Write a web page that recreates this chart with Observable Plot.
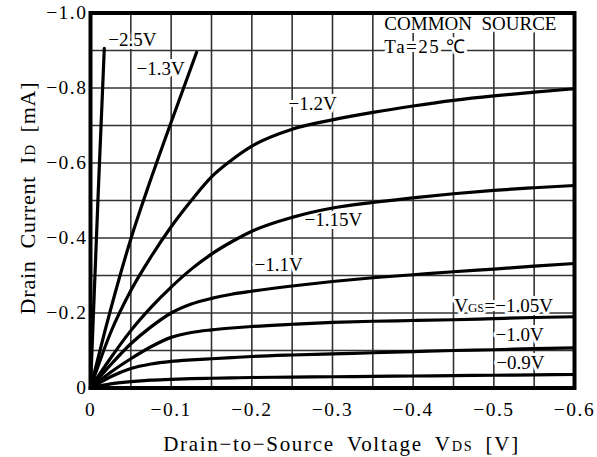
<!DOCTYPE html>
<html><head><meta charset="utf-8">
<script src="https://cdn.jsdelivr.net/npm/d3@7"></script>
<script src="https://cdn.jsdelivr.net/npm/@observablehq/plot@0.6"></script>
<style>body{margin:0;background:#fff}</style>
</head><body><div id="chart"></div>
<script>
// ---- data ----
const xDomain = [0, -0.6];
const yDomain = [0, -1.0];
const xTicks = [0, -0.1, -0.2, -0.3, -0.4, -0.5, -0.6];
const yTicks = [0, -0.2, -0.4, -0.6, -0.8, -1.0];
const xGrid = [-0.05, -0.1, -0.15, -0.2, -0.25, -0.3, -0.35, -0.4, -0.45, -0.5, -0.55];
const yGrid = [-0.1, -0.2, -0.3, -0.4, -0.5, -0.6, -0.7, -0.8, -0.9];

const vgsList = ["-2.5", "-1.3", "-1.2", "-1.15", "-1.1", "-1.05", "-1.0", "-0.9"];

const vdsA = [0, -0.0097, -0.0171];
const idA  = [0, -0.527, -0.906];            // VGS = -2.5 V
const vdsB = [0, -0.018, -0.0498, -0.07, -0.0985, -0.1315];
const idB  = [0, -0.153, -0.396, -0.527, -0.70, -0.895];   // VGS = -1.3 V

const vdsC = [0, -0.025, -0.05, -0.075, -0.1, -0.125, -0.15, -0.175, -0.2, -0.25, -0.3, -0.35, -0.4, -0.45, -0.5, -0.55, -0.6];
const id_m1_20 = [0, -0.148, -0.26, -0.35, -0.43, -0.50, -0.563, -0.608, -0.645, -0.69, -0.715, -0.735, -0.752, -0.767, -0.779, -0.789, -0.798];
const id_m1_15 = [0, -0.08, -0.153, -0.215, -0.269, -0.317, -0.357, -0.39, -0.418, -0.455, -0.48, -0.495, -0.507, -0.518, -0.527, -0.534, -0.54];
const id_m1_10 = [0, -0.062, -0.118, -0.163, -0.2, -0.224, -0.239, -0.25, -0.258, -0.272, -0.284, -0.294, -0.302, -0.31, -0.317, -0.325, -0.332];
const id_m1_05 = [0, -0.042, -0.078, -0.11, -0.135, -0.148, -0.155, -0.16, -0.164, -0.17, -0.175, -0.178, -0.18, -0.182, -0.185, -0.188, -0.19];
const id_m1_00 = [0, -0.03, -0.052, -0.064, -0.071, -0.075, -0.078, -0.081, -0.084, -0.088, -0.091, -0.094, -0.097, -0.1, -0.102, -0.105, -0.107];
const id_m0_90 = [0, -0.011, -0.017, -0.021, -0.023, -0.025, -0.026, -0.027, -0.028, -0.029, -0.03, -0.031, -0.032, -0.033, -0.034, -0.035, -0.036];

// annotations
const noteText = ["\u22122.5V", "\u22121.3V", "\u22121.2V", "\u22121.15V", "\u22121.1V", "V_{GS}=\u22121.05V", "\u22121.0V", "\u22120.9V", "COMMON\u2002SOURCE", "Ta=25\u2009\u2103"];
const noteV = [-0.022, -0.057, -0.2454, -0.2652, -0.2032, -0.451, -0.502, -0.503, -0.3643, -0.3643];
const noteI = [-0.929, -0.851, -0.757, -0.448, -0.327, -0.219, -0.141, -0.068, -0.971, -0.909];

const xTitle = "Drain\u2212to\u2212Source\u2002Voltage\u2002V_{DS}\u2002[V]";
const yTitle = "Drain\u2002Current\u2002I_{D}\u2002[mA]";

// ---- build tables ----
const curves = [[vdsA, idA], [vdsB, idB], [vdsC, id_m1_20], [vdsC, id_m1_15], [vdsC, id_m1_10], [vdsC, id_m1_05], [vdsC, id_m1_00], [vdsC, id_m0_90]];
const rows = [];
curves.forEach(([vs, is], k) => vs.forEach((v, i) => rows.push({vgs: vgsList[k], vds: v, id: is[i]})));
const notes = noteText.map((t, i) => ({text: t, v: noteV[i], i: noteI[i]}));

const fmt = d => d === 0 ? "0" : "\u2212" + Math.abs(d).toFixed(1);

const chart = Plot.plot({
  width: 597, height: 457,
  marginLeft: 90, marginRight: 23, marginTop: 12.5, marginBottom: 69.5,
  style: {fontFamily: "'Liberation Serif', serif", fontSize: "19.5px", color: "black", background: "white"},
  x: {domain: xDomain},
  y: {domain: yDomain},
  marks: [
    Plot.ruleX(xGrid, {stroke: "#333", strokeWidth: 1.6}),
    Plot.ruleY(yGrid, {stroke: "#333", strokeWidth: 1.6}),
    Plot.text(notes, {x: "v", y: "i", text: "text", textAnchor: "start", fontSize: 19, fill: "black",
                      stroke: "white", strokeWidth: 6, paintOrder: "stroke"}),
    Plot.line(rows, {x: "vds", y: "id", z: "vgs", curve: "monotone-x", stroke: "black", strokeWidth: 3.2}),
    Plot.frame({stroke: "black", strokeWidth: 4}),
    Plot.axisX({ticks: xTicks, tickSize: 0, tickPadding: 14, tickFormat: fmt, label: null}),
    Plot.axisY({ticks: yTicks, tickSize: 0, tickPadding: 3, tickFormat: fmt, label: null}),
    Plot.text([xTitle], {frameAnchor: "bottom", textAnchor: "middle", lineAnchor: "middle", dx: 9, dy: 56, fontSize: 21, fill: "black"}),
    Plot.text([yTitle], {frameAnchor: "left", textAnchor: "middle", lineAnchor: "middle", dx: -63, dy: -2.5, rotate: -90, fontSize: 22, fill: "black"})
  ]
});
document.getElementById("chart").append(chart);

// ---- post-process: small-caps subscripts and letter spacing ----
const NS = "http://www.w3.org/2000/svg";
const noteSet = new Set(noteText);
const tickSet = new Set([...xTicks, ...yTicks].map(fmt));
chart.querySelectorAll("text").forEach(t => {
  const s = t.textContent;
  let ls = null;
  if (s === xTitle) ls = 1.7;
  else if (s === yTitle) ls = 0.8;
  else if (tickSet.has(s)) ls = 1.5;
  else if (noteSet.has(s)) ls = s.startsWith("Ta") ? 1.5 : 0;
  if (s.includes("_{")) {
    t.textContent = "";
    s.split(/(_\{[^}]*\})/).forEach(p => {
      if (!p) return;
      const ts = document.createElementNS(NS, "tspan");
      if (p.startsWith("_{")) { ts.textContent = p.slice(2, -1); ts.setAttribute("style", "font-size:0.68em"); }
      else ts.textContent = p;
      t.appendChild(ts);
    });
  }
  if (ls !== null) t.setAttribute("letter-spacing", ls + "px");
});
</script>
</body></html>
